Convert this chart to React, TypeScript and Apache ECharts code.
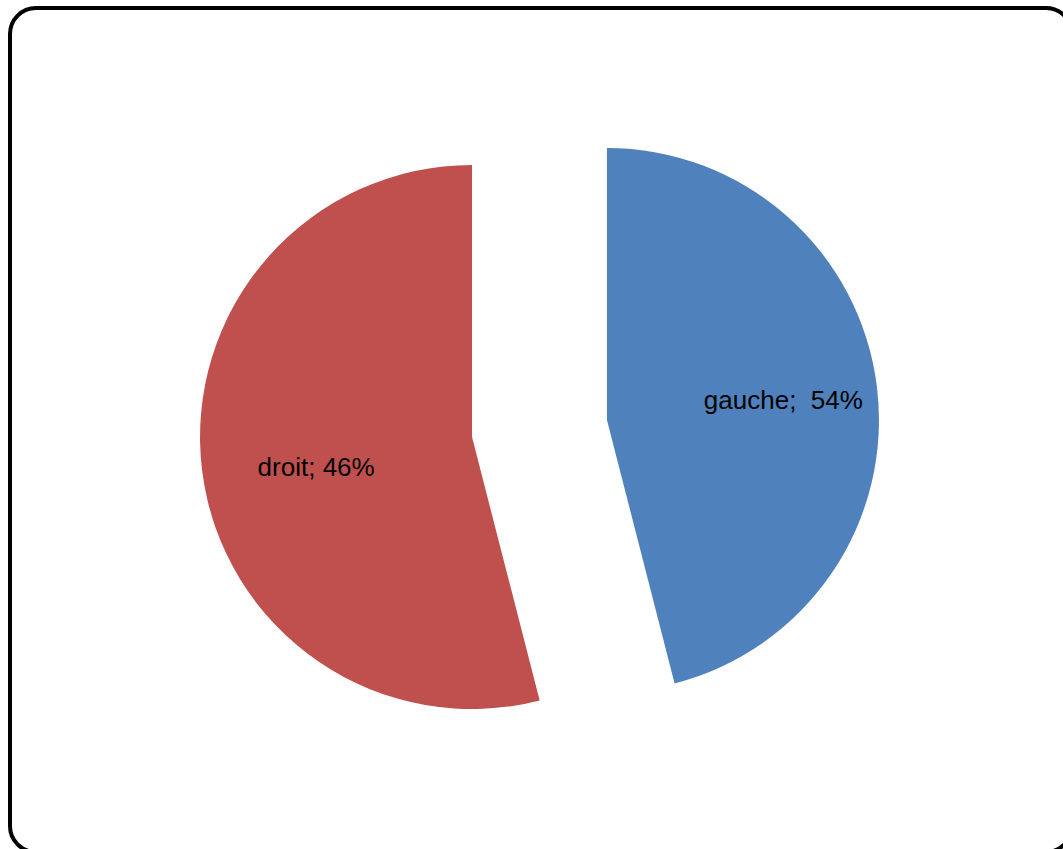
import React, { useEffect, useRef } from "react";
import * as echarts from "echarts";

// Slices as drawn (share of the circle) and the texts printed on them
const categories = ["gauche", "droit"];
const sliceValues = [46, 54];
const labelPercents = ["54%", "46%"];
const labelSeparators = [";  ", "; "];
const colors = ["#4F81BD", "#C0504D"];

export default function App() {
  const ref = useRef<HTMLDivElement>(null);
  useEffect(() => {
    if (!ref.current) return;
    const chart = echarts.init(ref.current, undefined, { renderer: "svg" });
    const data = categories.map((name, i) => ({
      name,
      value: sliceValues[i],
      selected: true,
      itemStyle: { color: colors[i] },
      select: { itemStyle: { color: colors[i] } },
      label: {
        formatter: name + labelSeparators[i] + labelPercents[i],
      },
    }));
    const labelShift = [
      [38.5, -3],
      [-18, 13],
    ];
    chart.setOption({
      animation: false,
      backgroundColor: "#ffffff",
      graphic: [
        {
          type: "rect",
          shape: { x: 10, y: 8, width: 1062, height: 844, r: 26 },
          style: { fill: "none", stroke: "#000000", lineWidth: 4 },
          silent: true,
        },
      ],
      series: [
        {
          type: "pie",
          center: [539.5, 428.5],
          radius: [0, 272],
          startAngle: 90,
          clockwise: true,
          selectedMode: "multiple",
          selectedOffset: 68,
          avoidLabelOverlap: false,
          emphasis: { disabled: true },
          label: {
            show: true,
            position: "inside",
            color: "#000000",
            fontFamily: "'Liberation Sans', Arial, sans-serif",
            fontSize: 26,
          },
          labelLine: { show: false },
          labelLayout: (params: any) => {
            const s = labelShift[params.dataIndex] || [0, 0];
            return { dx: s[0], dy: s[1] };
          },
          data,
        },
      ],
    });
    return () => chart.dispose();
  }, []);
  return (
    <div
      ref={ref}
      style={{ position: "fixed", left: 0, top: 0, width: 1063, height: 849 }}
    />
  );
}
